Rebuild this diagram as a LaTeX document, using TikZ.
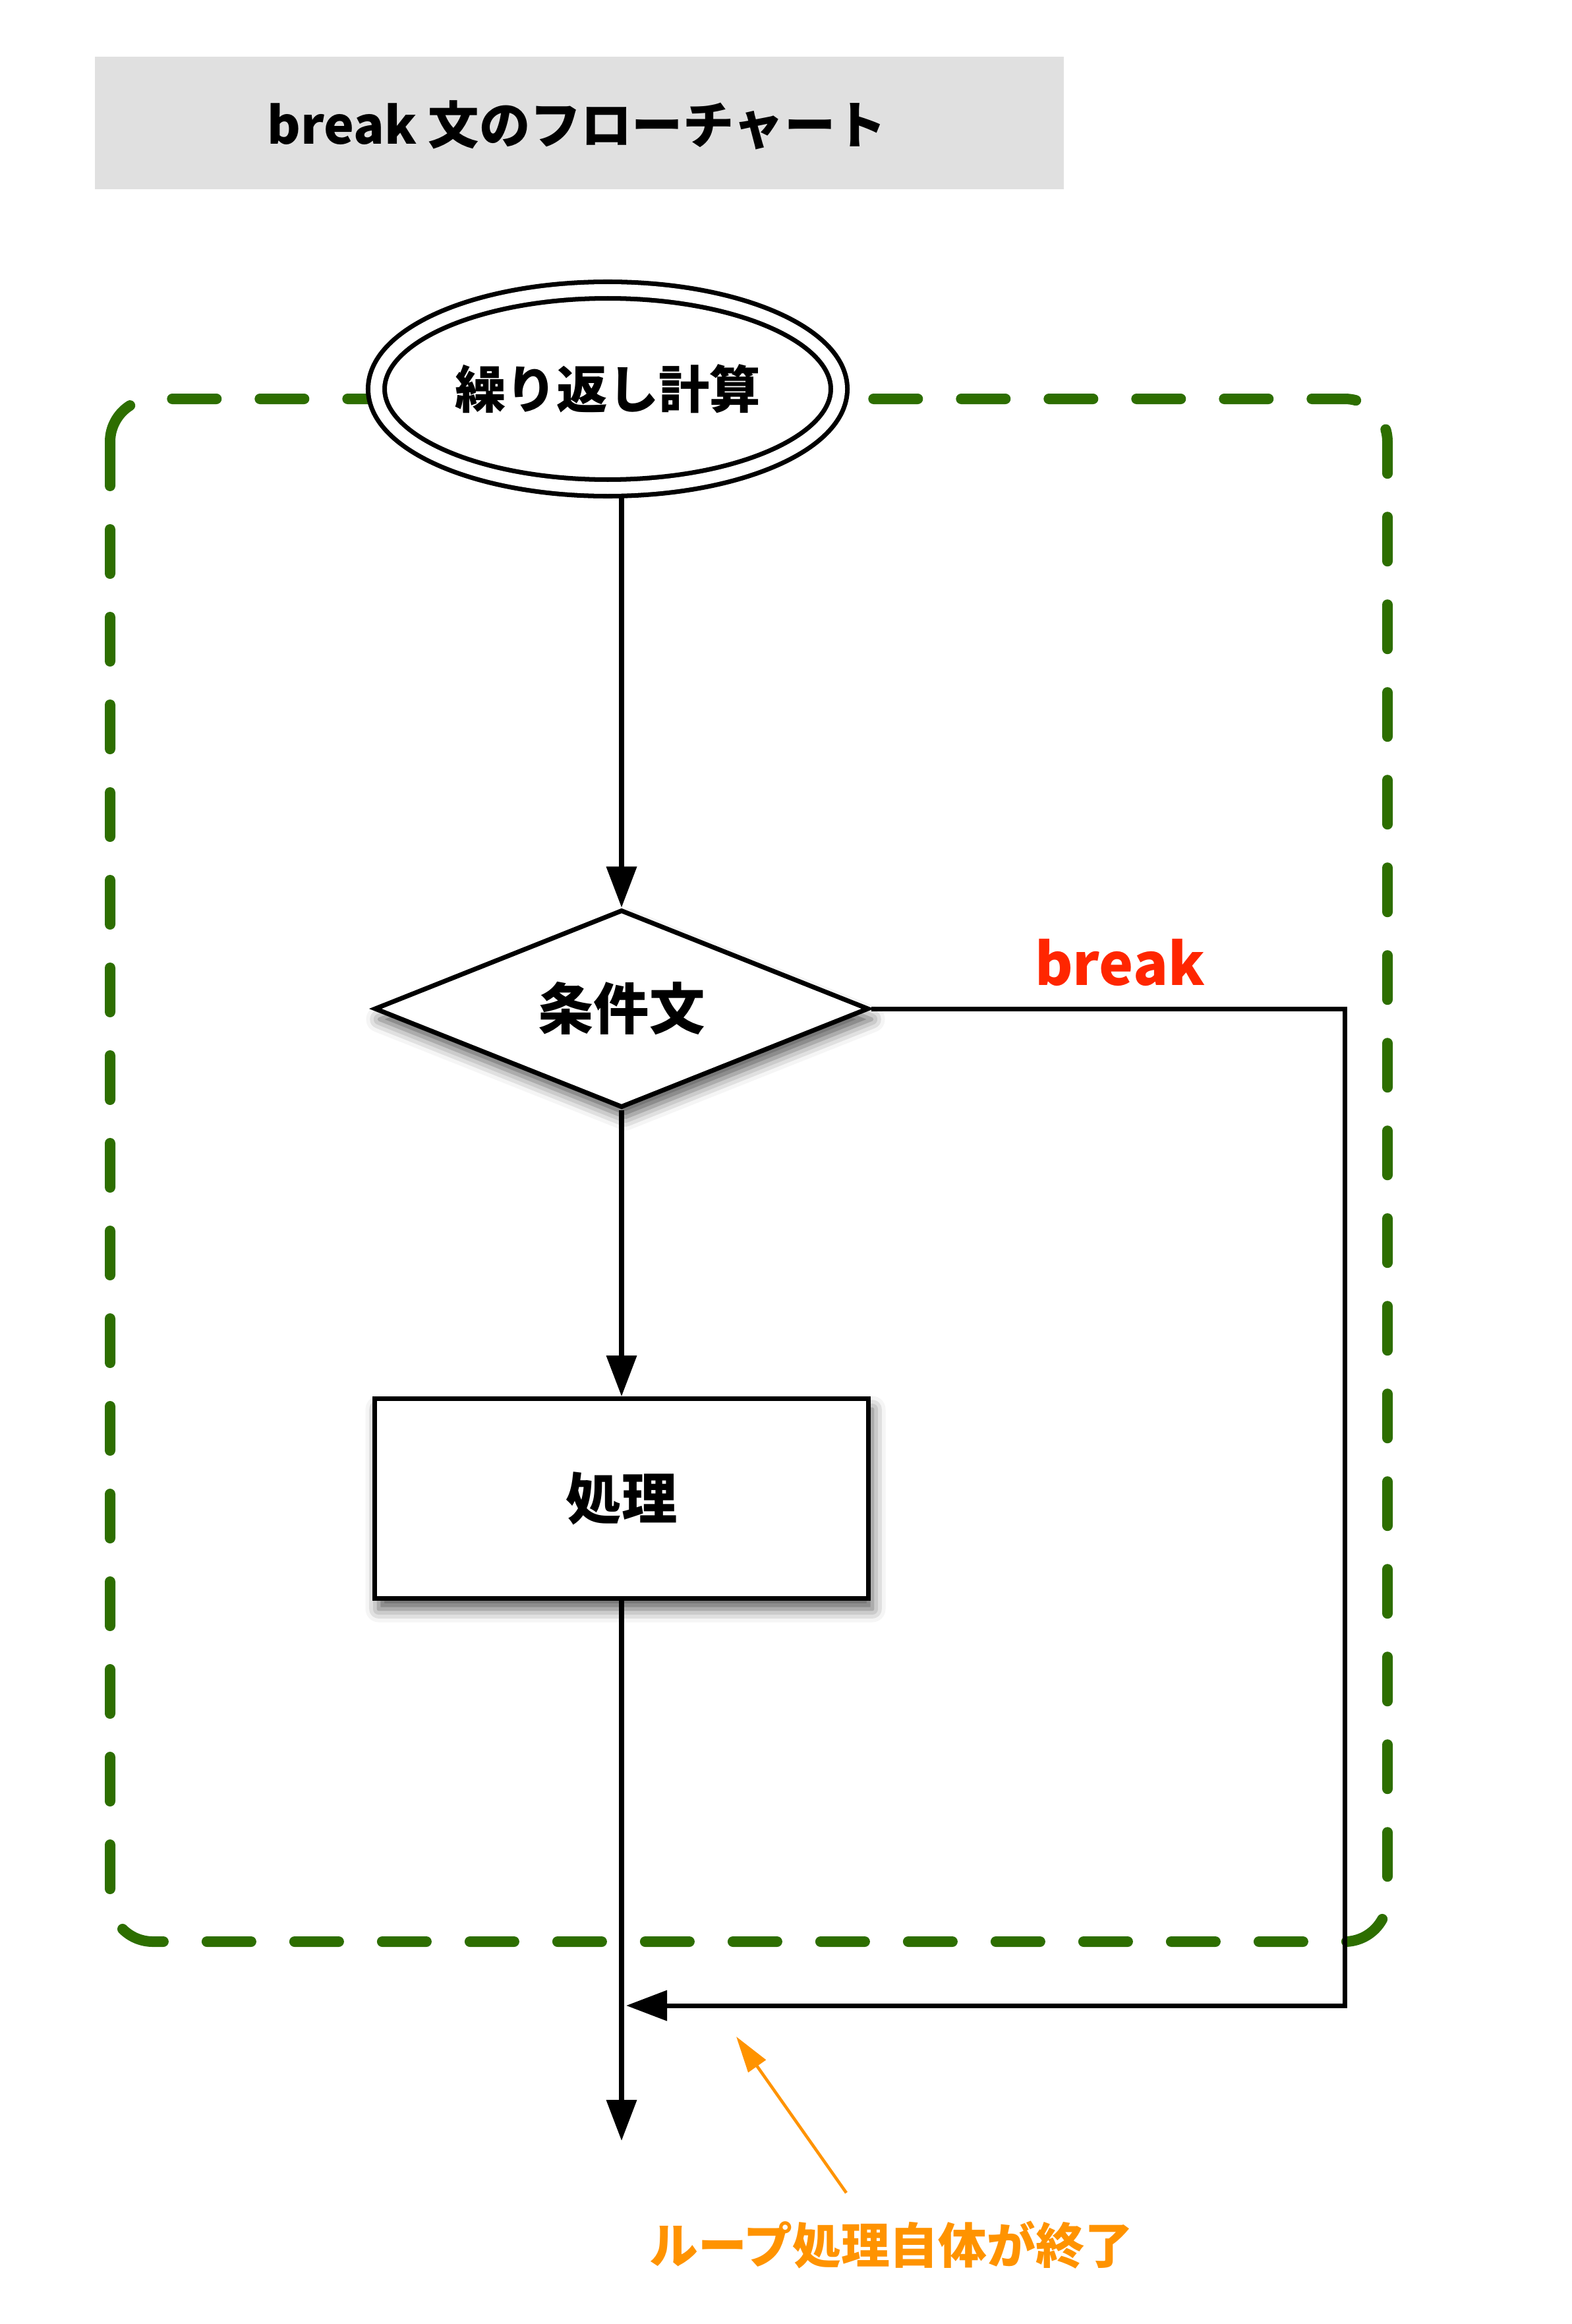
\documentclass[tikz,border=0pt]{standalone}
\usepackage{fontspec}
\setmainfont{Noto Sans CJK JP}
\usepackage{xcolor}
\usetikzlibrary{arrows.meta,shapes.geometric,shadows.blur}
\definecolor{loopgreen}{HTML}{2D6E00}
\definecolor{breakred}{HTML}{FF2600}
\definecolor{noteorange}{HTML}{FF9300}
\definecolor{titlegray}{HTML}{E0E0E0}

\begin{document}
\begin{tikzpicture}[
	line width = 2pt,
	flow/.style = {-{Triangle[length=0.62cm, width=0.45cm]}},
	boxshadow/.style = {blur shadow={shadow xshift=0.06cm, shadow yshift=-0.16cm, shadow blur radius=0.2cm, shadow opacity=65}},
	startbox/.style = {ellipse, draw, double, double distance=0.18cm, fill=white, minimum width=7.02cm, minimum height=3.0cm, inner sep=0pt, font=\bfseries\fontsize{22}{26}\selectfont},
	condbox/.style = {diamond, aspect=2.5, draw, fill=white, boxshadow, minimum width=7.5cm, minimum height=3.0cm, inner sep=0pt, font=\bfseries\fontsize{24}{28}\selectfont},
	procbox/.style = {rectangle, draw, fill=white, boxshadow, minimum width=7.49cm, minimum height=3.03cm, inner sep=0pt, font=\bfseries\fontsize{24}{28}\selectfont}
]
	\useasboundingbox (0,0) rectangle (23.84,-35.25);

	% title
	\fill[titlegray] (1.44,-0.86) rectangle (16.14,-2.87);
	\node[font=\bfseries\fontsize{22}{26}\selectfont] (title) at (8.75,-1.90) {break 文のフローチャート};

	% loop
	\draw[loopgreen, line width=0.16cm, line cap=round, dash pattern=on 0.67cm off 0.66cm, rounded corners=0.65cm] (1.67,-6.05) rectangle (21.05,-29.45);

	\node[startbox] (start) at (9.22,-5.90) {繰り返し計算};
	\node[condbox] (cond) at (9.43,-15.30) {条件文};
	\node[procbox] (proc) at (9.43,-22.73) {処理};

	\coordinate (turn) at (20.40,-30.42);
	\coordinate (merge) at (9.50,-30.42);
	\coordinate (exit) at (9.43,-32.47);

	\draw[flow, shorten <=0.11cm] (start.south -| cond.north) -- (cond.north);
	\draw[flow] (cond.south) -- (proc.north);
	\draw[flow] (proc.south) -- (exit);
	\draw[flow] (cond.east) -| (turn) -- (merge);
	\node[text=breakred, anchor=base, font=\bfseries\fontsize{25}{30}\selectfont] (brk) at (16.99,-14.94) {break};

	% note
	\node[text=noteorange, font=\bfseries\fontsize{21}{25}\selectfont] (note) at (13.52,-34.05) {ループ処理自体が終了};
	\coordinate (notefrom) at (12.84,-33.26);
	\coordinate (notetip) at (11.17,-30.89);
	\draw[noteorange, line width=1.3pt, -{Triangle[length=0.55cm, width=0.32cm]}] (notefrom) -- (notetip);
\end{tikzpicture}
\end{document}
